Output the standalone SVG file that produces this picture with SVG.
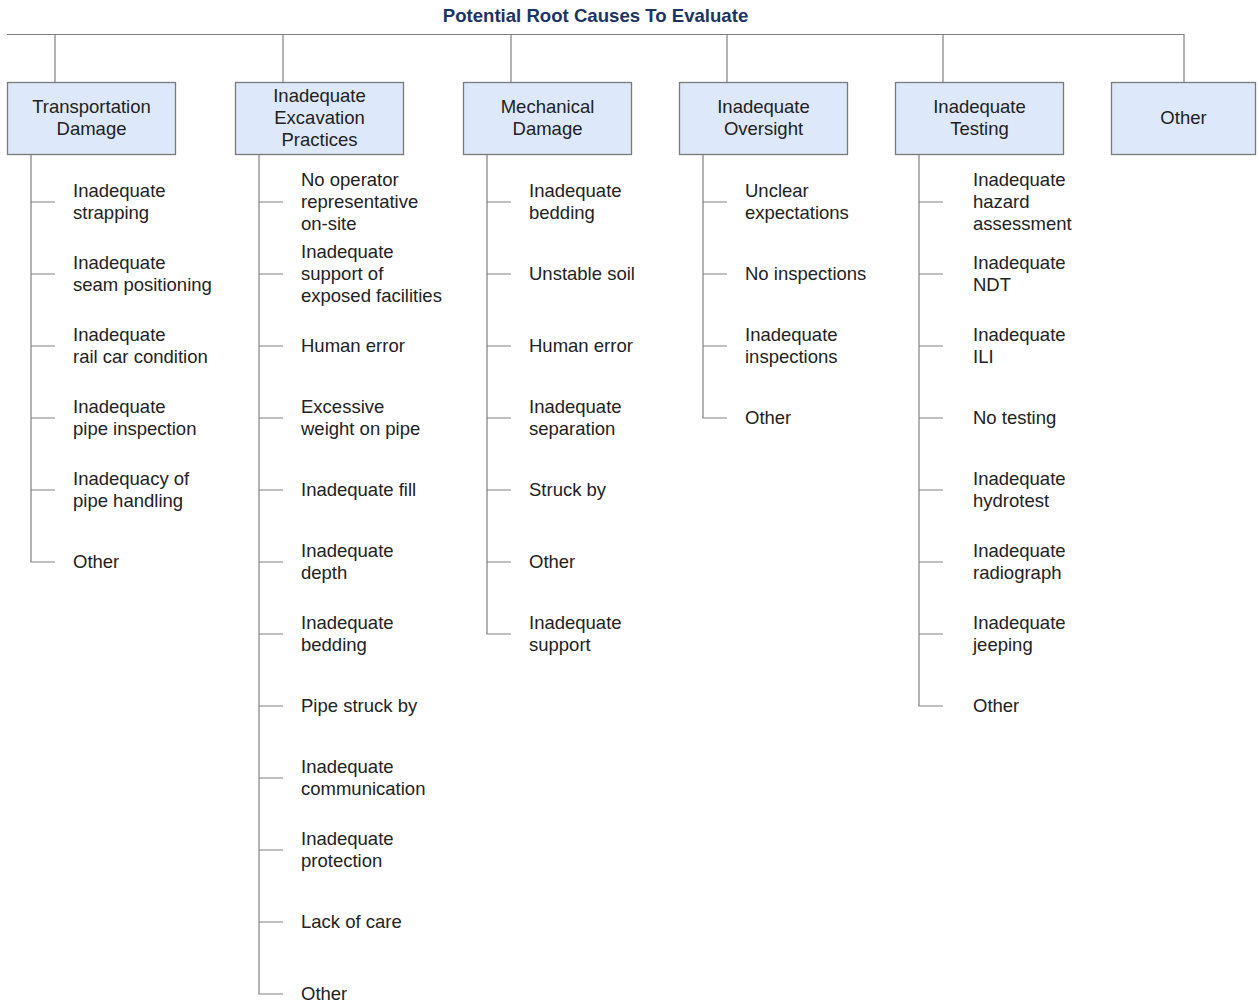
<svg xmlns="http://www.w3.org/2000/svg" width="1259" height="1002" viewBox="0 0 1259 1002">
  <style>
    .bg { fill: #ffffff; }
    .title { font-family: "Liberation Sans", Arial, sans-serif; font-size: 18.6px; font-weight: bold; fill: #1b3461; }
    .box rect { fill: #dee8fb; stroke: #7a7a7a; stroke-width: 1.3; }
    .box text { font-family: "Liberation Sans", Arial, sans-serif; font-size: 18.5px; fill: #222; text-anchor: middle; }
    .item text { font-family: "Liberation Sans", Arial, sans-serif; font-size: 18.5px; fill: #222; }
    #connectors path { fill: none; stroke: #808080; stroke-width: 1.2; }
  </style>
  <rect class="bg" x="0" y="0" width="1259" height="1002"/>

  <text class="title" x="595.5" y="22" text-anchor="middle">Potential Root Causes To Evaluate</text>

  <!-- connectors: top bus, drops to category boxes, spines and ticks -->
  <g id="connectors">
    <path d="M7 34.5 H1184 V82"/>
    <path d="M55 34.5 V82 M283 34.5 V82 M511 34.5 V82 M727 34.5 V82 M943 34.5 V82"/>
    <!-- Transportation Damage -->
    <path d="M31 154 V562 H55 M31 202 H55 M31 274 H55 M31 346 H55 M31 418 H55 M31 490 H55"/>
    <!-- Inadequate Excavation Practices -->
    <path d="M259 154 V994 H283 M259 202 H283 M259 274 H283 M259 346 H283 M259 418 H283 M259 490 H283 M259 562 H283 M259 634 H283 M259 706 H283 M259 778 H283 M259 850 H283 M259 922 H283"/>
    <!-- Mechanical Damage -->
    <path d="M487 154 V634 H511 M487 202 H511 M487 274 H511 M487 346 H511 M487 418 H511 M487 490 H511 M487 562 H511"/>
    <!-- Inadequate Oversight -->
    <path d="M703 154 V418 H727 M703 202 H727 M703 274 H727 M703 346 H727"/>
    <!-- Inadequate Testing -->
    <path d="M919 154 V706 H943 M919 202 H943 M919 274 H943 M919 346 H943 M919 418 H943 M919 490 H943 M919 562 H943 M919 634 H943"/>
  </g>

  <!-- category boxes -->
  <g id="cat-transportation" class="box">
    <rect x="7.5" y="82.5" width="168" height="72"/>
    <text x="91.5" y="112.5">Transportation</text>
    <text x="91.5" y="134.5">Damage</text>
  </g>
  <g id="cat-excavation" class="box">
    <rect x="235.5" y="82.5" width="168" height="72"/>
    <text x="319.5" y="101.5">Inadequate</text>
    <text x="319.5" y="123.5">Excavation</text>
    <text x="319.5" y="145.5">Practices</text>
  </g>
  <g id="cat-mechanical" class="box">
    <rect x="463.5" y="82.5" width="168" height="72"/>
    <text x="547.5" y="112.5">Mechanical</text>
    <text x="547.5" y="134.5">Damage</text>
  </g>
  <g id="cat-oversight" class="box">
    <rect x="679.5" y="82.5" width="168" height="72"/>
    <text x="763.5" y="112.5">Inadequate</text>
    <text x="763.5" y="134.5">Oversight</text>
  </g>
  <g id="cat-testing" class="box">
    <rect x="895.5" y="82.5" width="168" height="72"/>
    <text x="979.5" y="112.5">Inadequate</text>
    <text x="979.5" y="134.5">Testing</text>
  </g>
  <g id="cat-other" class="box">
    <rect x="1111.5" y="82.5" width="144" height="72"/>
    <text x="1183.5" y="123.5">Other</text>
  </g>

  <!-- Transportation Damage items -->
  <g id="items-transportation" class="item">
    <text x="73" y="197"><tspan x="73">Inadequate</tspan><tspan x="73" dy="22">strapping</tspan></text>
    <text x="73" y="269"><tspan x="73">Inadequate</tspan><tspan x="73" dy="22">seam positioning</tspan></text>
    <text x="73" y="341"><tspan x="73">Inadequate</tspan><tspan x="73" dy="22">rail car condition</tspan></text>
    <text x="73" y="413"><tspan x="73">Inadequate</tspan><tspan x="73" dy="22">pipe inspection</tspan></text>
    <text x="73" y="485"><tspan x="73">Inadequacy of</tspan><tspan x="73" dy="22">pipe handling</tspan></text>
    <text x="73" y="568">Other</text>
  </g>

  <!-- Inadequate Excavation Practices items -->
  <g id="items-excavation" class="item">
    <text x="301" y="186"><tspan x="301">No operator</tspan><tspan x="301" dy="22">representative</tspan><tspan x="301" dy="22">on-site</tspan></text>
    <text x="301" y="258"><tspan x="301">Inadequate</tspan><tspan x="301" dy="22">support of</tspan><tspan x="301" dy="22">exposed facilities</tspan></text>
    <text x="301" y="352">Human error</text>
    <text x="301" y="413"><tspan x="301">Excessive</tspan><tspan x="301" dy="22">weight on pipe</tspan></text>
    <text x="301" y="496">Inadequate fill</text>
    <text x="301" y="557"><tspan x="301">Inadequate</tspan><tspan x="301" dy="22">depth</tspan></text>
    <text x="301" y="629"><tspan x="301">Inadequate</tspan><tspan x="301" dy="22">bedding</tspan></text>
    <text x="301" y="712">Pipe struck by</text>
    <text x="301" y="773"><tspan x="301">Inadequate</tspan><tspan x="301" dy="22">communication</tspan></text>
    <text x="301" y="845"><tspan x="301">Inadequate</tspan><tspan x="301" dy="22">protection</tspan></text>
    <text x="301" y="928">Lack of care</text>
    <text x="301" y="1000">Other</text>
  </g>

  <!-- Mechanical Damage items -->
  <g id="items-mechanical" class="item">
    <text x="529" y="197"><tspan x="529">Inadequate</tspan><tspan x="529" dy="22">bedding</tspan></text>
    <text x="529" y="280">Unstable soil</text>
    <text x="529" y="352">Human error</text>
    <text x="529" y="413"><tspan x="529">Inadequate</tspan><tspan x="529" dy="22">separation</tspan></text>
    <text x="529" y="496">Struck by</text>
    <text x="529" y="568">Other</text>
    <text x="529" y="629"><tspan x="529">Inadequate</tspan><tspan x="529" dy="22">support</tspan></text>
  </g>

  <!-- Inadequate Oversight items -->
  <g id="items-oversight" class="item">
    <text x="745" y="197"><tspan x="745">Unclear</tspan><tspan x="745" dy="22">expectations</tspan></text>
    <text x="745" y="280">No inspections</text>
    <text x="745" y="341"><tspan x="745">Inadequate</tspan><tspan x="745" dy="22">inspections</tspan></text>
    <text x="745" y="424">Other</text>
  </g>

  <!-- Inadequate Testing items -->
  <g id="items-testing" class="item">
    <text x="973" y="186"><tspan x="973">Inadequate</tspan><tspan x="973" dy="22">hazard</tspan><tspan x="973" dy="22">assessment</tspan></text>
    <text x="973" y="269"><tspan x="973">Inadequate</tspan><tspan x="973" dy="22">NDT</tspan></text>
    <text x="973" y="341"><tspan x="973">Inadequate</tspan><tspan x="973" dy="22">ILI</tspan></text>
    <text x="973" y="424">No testing</text>
    <text x="973" y="485"><tspan x="973">Inadequate</tspan><tspan x="973" dy="22">hydrotest</tspan></text>
    <text x="973" y="557"><tspan x="973">Inadequate</tspan><tspan x="973" dy="22">radiograph</tspan></text>
    <text x="973" y="629"><tspan x="973">Inadequate</tspan><tspan x="973" dy="22">jeeping</tspan></text>
    <text x="973" y="712">Other</text>
  </g>
</svg>
